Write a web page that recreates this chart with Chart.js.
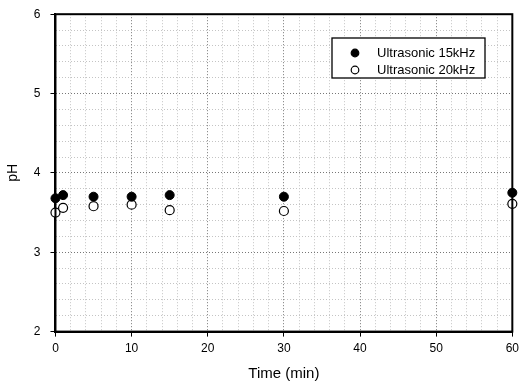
<!DOCTYPE html>
<html lang="en">
<head>
    <meta charset="UTF-8">
    <title>pH vs time</title>
    <script src="https://cdn.jsdelivr.net/npm/chart.js@4.4.0/dist/chart.umd.min.js"></script>
    <style>
      html, body { margin: 0; padding: 0; background: #fff; }
      #wrap { width: 524px; height: 383px; }
    </style>
</head>
<body>
  <div id="wrap"><canvas id="chart" width="524" height="383"></canvas></div>

  <script>
    /* Data. */
    const times = [0, 1, 5, 10, 15, 30, 60]
    const ph15 = [3.68, 3.72, 3.70, 3.70, 3.72, 3.70, 3.75]
    const ph20 = [3.50, 3.56, 3.58, 3.60, 3.53, 3.52, 3.61]
    const seriesLabels = ["Ultrasonic 15kHz", "Ultrasonic 20kHz"]

    const FONT = "'Liberation Sans', Arial, sans-serif"

    const isMajor = (v, step) => Math.abs(v / step - Math.round(v / step)) < 1e-6

    /* Frame round the plot area and the boxed legend inside it. */
    const framePlugin = {
      id: "frame",
      afterDraw(chart) {
        const { ctx, chartArea: a } = chart
        ctx.save()
        ctx.strokeStyle = "#000"
        ctx.lineWidth = 2
        ctx.strokeRect(a.left, a.top, a.right - a.left, a.bottom - a.top)

        /* legend */
        const bx = 332, by = 38, bw = 153, bh = 40
        ctx.fillStyle = "#fff"
        ctx.fillRect(bx, by, bw, bh)
        ctx.lineWidth = 1.3
        ctx.strokeRect(bx, by, bw, bh)
        ctx.font = "13px " + FONT
        ctx.textBaseline = "middle"
        chart.data.datasets.forEach((ds, i) => {
          const y = by + 15 + i * 17
          ctx.beginPath()
          ctx.arc(bx + 23, y, 3.8, 0, Math.PI * 2)
          ctx.fillStyle = ds.pointBackgroundColor
          ctx.fill()
          ctx.lineWidth = 1.2
          ctx.strokeStyle = "#000"
          ctx.stroke()
          ctx.fillStyle = "#000"
          ctx.fillText(ds.label, bx + 45, y)
        })
        ctx.restore()
      }
    }

    const ctx = document.getElementById("chart").getContext("2d")

    const myChart = new Chart(ctx, {
      type: "scatter",
      data: {
        datasets: [
          {
            label: seriesLabels[0],
            data: times.map((t, i) => ({ x: t, y: ph15[i] })),
            pointRadius: 4.5,
            pointBackgroundColor: "#000",
            pointBorderColor: "#000",
            pointBorderWidth: 1,
            clip: false
          },
          {
            label: seriesLabels[1],
            data: times.map((t, i) => ({ x: t, y: ph20[i] })),
            pointRadius: 4.5,
            pointBackgroundColor: "#fff",
            pointBorderColor: "#000",
            pointBorderWidth: 1.2,
            clip: false
          }
        ]
      },
      options: {
        responsive: false,
        animation: false,
        layout: { padding: { top: 8, right: 9, left: 5, bottom: 0 } },
        plugins: {
          legend: { display: false },
          tooltip: { enabled: false }
        },
        scales: {
          x: {
            type: "linear",
            min: 0,
            max: 60,
            ticks: {
              stepSize: 2,
              autoSkip: false,
              maxRotation: 0,
              padding: 5,
              color: "#000",
              font: { family: FONT, size: 12 },
              callback: v => isMajor(v, 10) ? v : ""
            },
            grid: {
              color: c => isMajor(c.tick.value, 10) ? "#777" : "#c4c4c4",
              tickColor: c => isMajor(c.tick.value, 10) ? "#000" : "rgba(0,0,0,0)",
              tickLength: 5,
              lineWidth: 1
            },
            border: { color: "#000", width: 2, dash: [1, 2] },
            title: {
              display: true,
              text: "Time (min)",
              color: "#000",
              font: { family: FONT, size: 15 },
              padding: { top: 4, bottom: 0 }
            }
          },
          y: {
            min: 2,
            max: 6,
            ticks: {
              stepSize: 0.2,
              autoSkip: false,
              padding: 10,
              color: "#000",
              font: { family: FONT, size: 12, lineHeight: 0.7 },
              callback: v => isMajor(v, 1) ? Math.round(v) : ""
            },
            grid: {
              color: c => isMajor(c.tick.value, 1) ? "#777" : "#c4c4c4",
              tickColor: c => isMajor(c.tick.value, 1) ? "#000" : "rgba(0,0,0,0)",
              tickLength: 5,
              lineWidth: 1
            },
            border: { color: "#000", width: 2, dash: [1, 2] },
            title: {
              display: true,
              text: "pH",
              color: "#000",
              font: { family: FONT, size: 14 },
              padding: { top: 0, bottom: 2 }
            }
          }
        }
      },
      plugins: [framePlugin]
    })
  </script>

</body>
</html>
